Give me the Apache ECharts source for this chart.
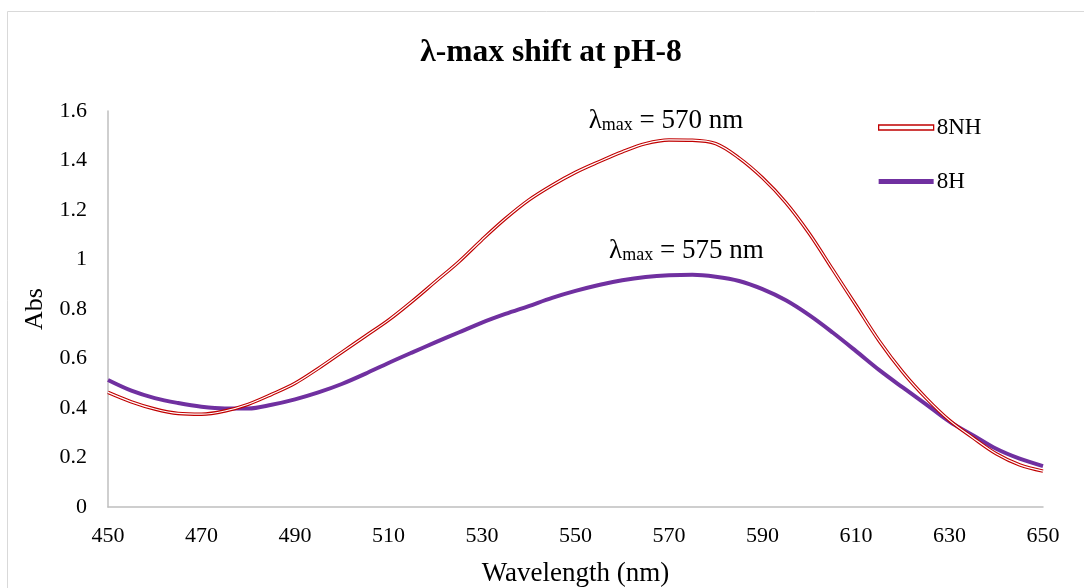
<!DOCTYPE html>
<html>
<head>
<meta charset="utf-8">
<script src="https://cdn.jsdelivr.net/npm/echarts@6/dist/echarts.min.js"></script>
<style>
html,body{margin:0;padding:0;background:#fff;}
#chart{width:1084px;height:588px;}
</style>
</head>
<body>
<div id="chart"></div>
<script>
const wavelengths = [450,455,460,465,470,475,480,485,490,495,500,505,510,515,520,525,530,535,540,545,550,555,560,565,570,575,580,585,590,595,600,605,610,615,620,625,630,635,640,645,650];
const abs8NH = [0.463,0.425,0.396,0.378,0.375,0.388,0.415,0.455,0.50,0.56,0.625,0.69,0.755,0.83,0.91,0.99,1.08,1.165,1.24,1.30,1.352,1.395,1.435,1.468,1.483,1.482,1.468,1.41,1.33,1.23,1.105,0.96,0.815,0.67,0.545,0.44,0.35,0.28,0.215,0.17,0.145];
const abs8H = [0.513,0.47,0.44,0.42,0.405,0.398,0.398,0.413,0.435,0.463,0.497,0.538,0.582,0.624,0.665,0.705,0.745,0.78,0.812,0.845,0.873,0.897,0.916,0.929,0.936,0.938,0.93,0.913,0.88,0.835,0.775,0.705,0.63,0.553,0.483,0.415,0.345,0.29,0.235,0.195,0.165];
const peak8NH = [570, 1.483];
const peak8H = [575, 0.938];
const seriesNames = ['8NH', '8H'];
const titleText = 'λ-max shift at pH-8';
const xName = 'Wavelength (nm)';
const yName = 'Abs';

const RED = '#c00000';
const PURPLE = '#7030a0';
const FONT = '"Liberation Serif","Times New Roman",serif';

const pairs = (ys) => wavelengths.map((w, i) => [w, ys[i]]);

const annot = (coord, nm, dist, dx) => ({
  symbol: 'rect', symbolSize: 1, itemStyle: {color: 'rgba(0,0,0,0)'},
  data: [{coord: coord}],
  label: {
    show: true, position: 'top', distance: dist, offset: [dx, 0],
    formatter: '{l|λ}{s|max}{l| = ' + nm + ' nm}',
    rich: {
      l: {fontFamily: FONT, fontSize: 27, lineHeight: 27, color: '#000', verticalAlign: 'top'},
      s: {fontFamily: FONT, fontSize: 18, lineHeight: 18, color: '#000', verticalAlign: 'bottom', padding: [16, 0, 0, 0]}
    }
  }
});

const chart = echarts.init(document.getElementById('chart'), null, {renderer: 'canvas'});
chart.setOption({
  backgroundColor: '#fff',
  animation: false,
  title: {
    text: titleText, left: 546, textAlign: 'center', top: 32,
    textStyle: {fontFamily: FONT, fontSize: 31.5, fontWeight: 'bold', color: '#000'}
  },
  graphic: [{
    type: 'rect', silent: true,
    shape: {x: 7.5, y: 11.5, width: 1100, height: 600},
    style: {fill: 'none', stroke: '#d9d9d9', lineWidth: 1}
  }],
  legend: {
    orient: 'vertical', left: 873, top: 111, itemWidth: 55, itemHeight: 5, itemGap: 31,
    textStyle: {fontFamily: FONT, fontSize: 23, color: '#000', padding: [0, 0, 0, -2]},
    data: [
      {name: seriesNames[0], icon: 'rect', itemStyle: {color: '#fff', borderColor: RED, borderWidth: 1.3}},
      {name: seriesNames[1], icon: 'rect', itemStyle: {color: PURPLE}}
    ]
  },
  grid: {left: 108, right: 41, top: 111, bottom: 81, containLabel: false, outerBoundsMode: 'none'},
  xAxis: {
    type: 'value', min: 450, max: 650, interval: 20,
    name: xName, nameLocation: 'middle', nameGap: 53,
    nameTextStyle: {fontFamily: FONT, fontSize: 27, color: '#000'},
    axisLine: {show: true, lineStyle: {color: '#bfbfbf', width: 1.5}},
    axisTick: {show: false},
    splitLine: {show: false},
    axisLabel: {fontFamily: FONT, fontSize: 22, color: '#000', margin: 18}
  },
  yAxis: {
    type: 'value', min: 0, max: 1.6, interval: 0.2,
    name: yName, nameLocation: 'middle', nameGap: 60, nameRotate: 90,
    nameTextStyle: {fontFamily: FONT, fontSize: 26, color: '#000'},
    axisLine: {show: true, lineStyle: {color: '#bfbfbf', width: 1.5}},
    axisTick: {show: false},
    splitLine: {show: false},
    axisLabel: {fontFamily: FONT, fontSize: 22, color: '#000', margin: 21,
      formatter: (v) => String(Math.round(v * 10) / 10)}
  },
  series: [
    {
      name: seriesNames[1], type: 'line', data: pairs(abs8H), smooth: 0.35,
      symbol: 'none', z: 2, lineStyle: {color: PURPLE, width: 4}, itemStyle: {color: PURPLE},
      markPoint: annot(peak8H, 575, 10, -6)
    },
    {
      name: seriesNames[0], type: 'line', data: pairs(abs8NH), smooth: 0.35,
      symbol: 'none', z: 3, lineStyle: {color: RED, width: 3.4}, itemStyle: {color: RED},
      markPoint: annot(peak8NH, 570, 5, -3)
    },
    {
      name: '8NH-inner', type: 'line', data: pairs(abs8NH), smooth: 0.35,
      symbol: 'none', z: 4, silent: true, lineStyle: {color: '#fff', width: 1.2}, itemStyle: {color: '#fff'}
    }
  ]
});
</script>
</body>
</html>
